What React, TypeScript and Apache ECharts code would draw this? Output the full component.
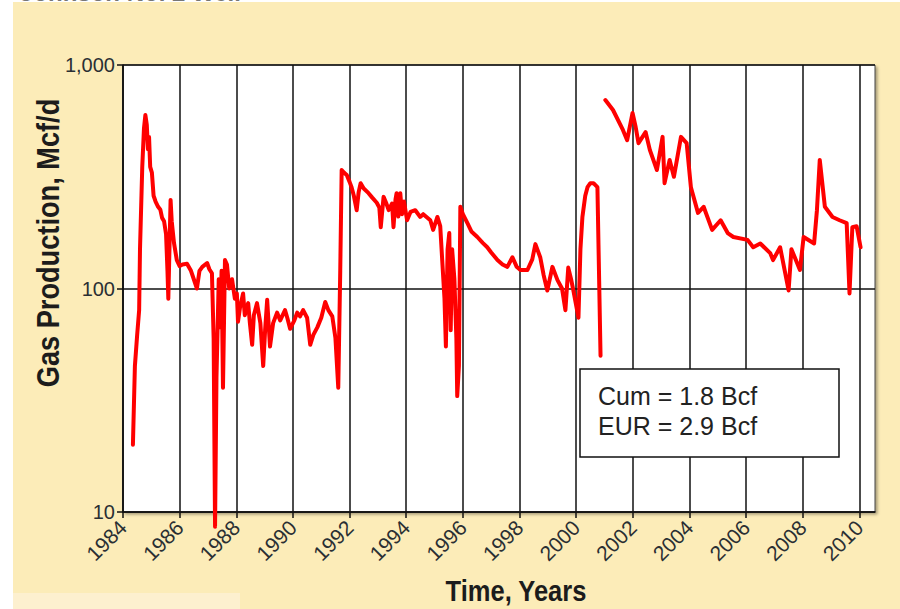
import React, { useEffect, useRef } from "react";
import * as echarts from "echarts";

// Gas production, Mcf/d — [year, value]
const firstProduction: [number, number][] = [
  [1984.35, 20], [1984.42, 45], [1984.5, 62], [1984.57, 80], [1984.6, 150],
  [1984.68, 350], [1984.74, 520], [1984.79, 597], [1984.84, 540], [1984.88, 420],
  [1984.92, 476], [1984.96, 350], [1985.02, 330], [1985.08, 260], [1985.15, 245],
  [1985.24, 232], [1985.32, 225], [1985.38, 207], [1985.45, 200], [1985.52, 175],
  [1985.57, 120], [1985.6, 90], [1985.64, 150], [1985.68, 249], [1985.72, 200],
  [1985.8, 160], [1985.9, 134], [1986.0, 126], [1986.1, 128], [1986.26, 129],
  [1986.4, 120], [1986.5, 110], [1986.61, 100], [1986.7, 120], [1986.8, 125],
  [1986.97, 130], [1987.05, 122], [1987.14, 117], [1987.2, 60], [1987.25, 8.6],
  [1987.3, 40], [1987.38, 110], [1987.43, 67], [1987.48, 120], [1987.53, 36],
  [1987.6, 134], [1987.67, 128], [1987.75, 100], [1987.85, 110], [1987.95, 90],
  [1988.02, 95], [1988.06, 71], [1988.13, 82], [1988.24, 95], [1988.3, 76],
  [1988.42, 86], [1988.48, 70], [1988.56, 56], [1988.62, 76], [1988.73, 86],
  [1988.85, 70], [1988.95, 45], [1989.02, 66], [1989.09, 89], [1989.19, 55],
  [1989.3, 70], [1989.44, 78], [1989.55, 72], [1989.72, 80], [1989.8, 74],
  [1989.9, 66], [1990.05, 72], [1990.15, 78], [1990.25, 75], [1990.36, 80],
  [1990.5, 74], [1990.61, 56], [1990.72, 62], [1990.86, 67], [1991.0, 74],
  [1991.14, 87], [1991.25, 80], [1991.39, 75], [1991.5, 60], [1991.6, 36],
  [1991.67, 120], [1991.72, 339],
  [1991.8, 330], [1991.9, 322], [1992.0, 300], [1992.07, 284], [1992.15, 260],
  [1992.25, 224], [1992.32, 270], [1992.39, 296], [1992.5, 280], [1992.67, 267],
  [1992.8, 255], [1992.96, 242], [1993.05, 230], [1993.1, 188], [1993.2, 257],
  [1993.3, 240], [1993.38, 224], [1993.5, 240], [1993.55, 188], [1993.62, 250],
  [1993.66, 267], [1993.72, 210], [1993.79, 267], [1993.85, 215], [1993.92, 245],
  [1994.03, 202], [1994.15, 220], [1994.32, 224], [1994.49, 209], [1994.6, 215],
  [1994.85, 202], [1994.95, 183], [1995.1, 209], [1995.2, 190], [1995.27, 134],
  [1995.35, 90], [1995.4, 55], [1995.46, 150], [1995.52, 177], [1995.57, 65],
  [1995.62, 150], [1995.7, 110], [1995.77, 60], [1995.8, 33], [1995.86, 45],
  [1995.91, 232], [1996.0, 215], [1996.16, 196], [1996.3, 180], [1996.51, 170],
  [1996.7, 160], [1996.86, 153], [1997.0, 145], [1997.22, 134], [1997.4, 128],
  [1997.57, 125], [1997.75, 138], [1997.9, 125], [1998.03, 121], [1998.28, 121],
  [1998.45, 135], [1998.56, 158], [1998.73, 138], [1998.85, 115], [1998.98, 98],
  [1999.1, 115], [1999.16, 125], [1999.34, 109], [1999.5, 100], [1999.62, 80],
  [1999.72, 124], [1999.82, 110], [1999.9, 98], [2000.08, 74], [2000.15, 150],
  [2000.22, 209], [2000.32, 260], [2000.4, 284], [2000.5, 296], [2000.61, 296],
  [2000.75, 284], [2000.86, 50],
];

const secondProduction: [number, number][] = [
  [2001.03, 697], [2001.3, 629], [2001.65, 512], [2001.8, 461], [2001.99, 610],
  [2002.1, 528], [2002.2, 447], [2002.45, 501], [2002.6, 417], [2002.85, 339],
  [2003.05, 477], [2003.12, 296], [2003.3, 376], [2003.45, 316], [2003.7, 477],
  [2003.9, 447], [2004.05, 284], [2004.3, 218], [2004.5, 232], [2004.8, 183],
  [2005.1, 202], [2005.35, 177], [2005.55, 170], [2006.05, 165], [2006.25, 153],
  [2006.5, 159], [2006.85, 144], [2006.95, 134], [2007.2, 153], [2007.5, 98],
  [2007.6, 150], [2007.9, 121], [2008.03, 170], [2008.4, 159], [2008.5, 224],
  [2008.6, 376], [2008.78, 232], [2009.05, 209], [2009.3, 202], [2009.55, 196],
  [2009.65, 95], [2009.75, 188], [2009.9, 190], [2010.04, 153],
];

const yearTicks = [1984, 1986, 1988, 1990, 1992, 1994, 1996, 1998, 2000, 2002, 2004, 2006, 2008, 2010];
const notes = ["Cum = 1.8 Bcf", "EUR = 2.9 Bcf"];
const title = "Johnson No. 2 Well";
const yTitle = "Gas Production, Mcf/d";
const xTitle = "Time, Years";

const FONT = "'Liberation Sans', Arial, Helvetica, sans-serif";

export default function App() {
  const ref = useRef<HTMLDivElement>(null);
  useEffect(() => {
    if (!ref.current) return;
    const chart = echarts.init(ref.current, undefined, { renderer: "svg" });
    const lineStyle = { color: "#ff0000", width: 4, join: "round" as const, cap: "round" as const };
    chart.setOption({
      animation: false,
      backgroundColor: "#ffffff",
      grid: {
        left: 123,
        top: 65,
        right: 25,
        bottom: 97,
        show: true,
        backgroundColor: "#ffffff",
        borderColor: "#444",
        borderWidth: 1,
        shadowColor: "rgba(0,0,0,0.35)",
        shadowBlur: 3,
        shadowOffsetX: 2,
        shadowOffsetY: 2,
      },
      xAxis: {
        type: "value",
        min: 1984,
        max: 2010.55,
        interval: 2,
        axisLine: { show: true, onZero: false, lineStyle: { color: "#111", width: 1.5 } },
        axisTick: { show: true, length: 6, customValues: yearTicks, lineStyle: { color: "#111", width: 1.5 } },
        splitLine: { show: true, lineStyle: { color: "#111", width: 1.5 } },
        axisLabel: {
          customValues: yearTicks,
          rotate: 45,
          margin: 12,
          fontSize: 21,
          fontFamily: FONT,
          color: "#2a2f33",
          formatter: (v: number) => (yearTicks.indexOf(v) >= 0 ? String(v) : ""),
        },
      },
      yAxis: {
        type: "log",
        logBase: 10,
        min: 10,
        max: 1000,
        axisLine: { show: true, lineStyle: { color: "#111", width: 1.5 } },
        axisTick: { show: true, length: 6, lineStyle: { color: "#111", width: 1.5 } },
        splitLine: { show: true, lineStyle: { color: "#111", width: 1.5 } },
        minorTick: { show: false },
        axisLabel: {
          margin: 8,
          fontSize: 20,
          fontFamily: FONT,
          color: "#2a2f33",
          formatter: (v: number) => (Math.abs(v - 1000) < 1e-6 ? "1,000" : String(Math.round(v))),
        },
      },
      series: [
        { type: "line", data: firstProduction, showSymbol: false, clip: false, lineStyle, z: 5 },
        { type: "line", data: secondProduction, showSymbol: false, clip: false, lineStyle, z: 5 },
      ],
      graphic: [
        { type: "rect", z: -10, silent: true, shape: { x: 13, y: 2, width: 887, height: 607 }, style: { fill: "#fcecb8" } },
        { type: "rect", z: -9, silent: true, shape: { x: 13, y: 593, width: 227, height: 16 }, style: { fill: "#fdf0cf" } },
        {
          type: "text", z: -8, silent: true, x: 20, y: 4,
          style: { text: title, fontSize: 24, fontWeight: "bold", fontFamily: FONT, fill: "#777", textVerticalAlign: "bottom" },
        },
        {
          type: "text", z: 20, silent: true, x: 48, y: 243, rotation: Math.PI / 2, scaleX: 0.85,
          style: { text: yTitle, fontSize: 32, fontWeight: "bold", fontFamily: FONT, fill: "#1c1c1c", textAlign: "center", textVerticalAlign: "middle" },
        },
        {
          type: "text", z: 20, silent: true, x: 516, y: 606, scaleX: 0.85,
          style: { text: xTitle, fontSize: 30, fontWeight: "bold", fontFamily: FONT, fill: "#1c1c1c", textAlign: "center", textVerticalAlign: "bottom" },
        },
        { type: "rect", z: 20, silent: true, shape: { x: 580, y: 369, width: 259, height: 88 }, style: { fill: "#ffffff", stroke: "#111", lineWidth: 1.5 } },
        {
          type: "text", z: 21, silent: true, x: 598, y: 396,
          style: { text: notes[0], fontSize: 25, fontFamily: FONT, fill: "#222", textVerticalAlign: "middle" },
        },
        {
          type: "text", z: 21, silent: true, x: 598, y: 426,
          style: { text: notes[1], fontSize: 25, fontFamily: FONT, fill: "#222", textVerticalAlign: "middle" },
        },
      ],
    });
    return () => chart.dispose();
  }, []);
  return <div ref={ref} style={{ position: "fixed", left: 0, top: 0, width: 900, height: 609 }} />;
}
